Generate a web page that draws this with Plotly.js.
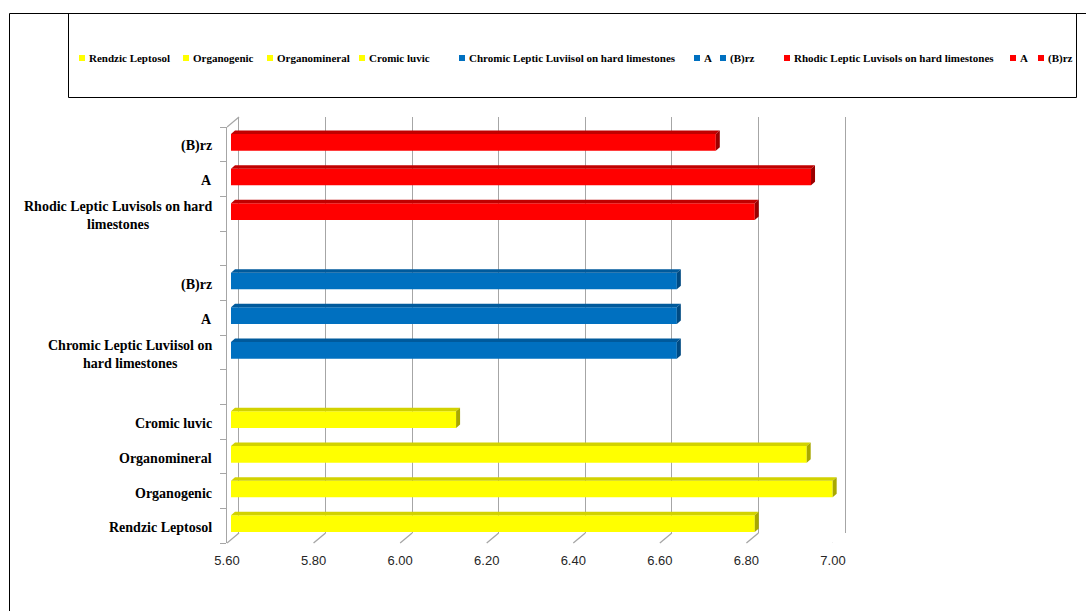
<!DOCTYPE html>
<html><head><meta charset="utf-8">
<script src="https://cdn.plot.ly/plotly-3.0.1.min.js"></script>
<style>html,body{margin:0;padding:0;background:#fff}#chart{width:1086px;height:611px}</style>
</head><body><div id="chart"></div>
<script>
// ---- data ----
const categories = ['Rendzic Leptosol','Organogenic','Organomineral','Cromic luvic',
  'Chromic Leptic Luviisol on hard limestones','A','(B)rz',
  'Rhodic Leptic Luvisols on hard limestones','A','(B)rz'];
const axisLabels = ['Rendzic Leptosol','Organogenic','Organomineral','Cromic luvic',
  'Chromic Leptic Luviisol on<br>hard limestones','A','(B)rz',
  'Rhodic Leptic Luvisols on hard<br>limestones','A','(B)rz'];
const slotIndex = [0,1,2,3,5,6,7,9,10,11];
const groupOf = [0,0,0,0,1,1,1,2,2,2];
const values = [6.81,6.99,6.93,6.12,6.63,6.63,6.63,6.81,6.94,6.72];
const xTickVals = [5.6,5.8,6.0,6.2,6.4,6.6,6.8,7.0];
const xTickText = ['5.60','5.80','6.00','6.20','6.40','6.60','6.80','7.00'];
const xMin = 5.6, xMax = 7.0, slotCount = 12;

// ---- styles ----
const frontCol = ['#FFFF00','#0070C0','#FF0000'];
const topCol   = ['#D2D200','#005A9C','#C00000'];
const sideCol  = ['#A8A800','#004A82','#9A0000'];
const legendX  = [82,186,270,362,462,697,723,787,1013,1041];
const W = 1086, H = 611;
const px = x => x / W, py = y => (H - y) / H;
const gridCol = '#A6A6A6';
const serif = 'Liberation Serif, Times New Roman, serif';
const sans = 'Liberation Sans, Arial, sans-serif';

// plane geometry (pixels)
const front = {x0:227, x1:833, yb:543, yt:127};
const barP  = {x0:231, x1:837, yb:541, yt:125};
const back  = {x0:239, x1:845, yb:533, yt:117};
const pxPerUnit = (front.x1 - front.x0) / (xMax - xMin);
const pxPerSlot = (front.yb - front.yt) / slotCount;

const traces = [];
// dummy traces so every subplot exists
traces.push({type:'scatter', x:[xMin], y:[-0.5], xaxis:'x', yaxis:'y', mode:'markers',
  marker:{opacity:0}, hoverinfo:'skip', showlegend:false});
traces.push({type:'scatter', x:[xMin], y:[-0.5], xaxis:'x2', yaxis:'y2', mode:'markers',
  marker:{opacity:0}, hoverinfo:'skip', showlegend:false});

[0,1,2].forEach(g => {
  const idx = values.map((v,i)=>i).filter(i => groupOf[i] === g);
  traces.push({
    type:'bar', orientation:'h', xaxis:'x3', yaxis:'y3',
    x: idx.map(i => values[i]), y: idx.map(i => slotIndex[i]),
    customdata: idx.map(i => categories[i]), hovertemplate:'%{customdata}: %{x:.2f}<extra></extra>',
    width: 0.48, marker:{color: frontCol[g], line:{width:0}}, showlegend:false
  });
});

const shapes = [];
const dx = 4 / pxPerUnit, dy = 3.5 / pxPerSlot, half = 0.24;
values.forEach((v,i) => {
  const s = slotIndex[i], g = groupOf[i];
  const yt = s + half, yb = s - half;
  shapes.push({type:'path', xref:'x3', yref:'y3', layer:'above', line:{width:0},
    fillcolor: topCol[g],
    path:`M ${xMin},${yt} L ${v},${yt} L ${v+dx},${yt+dy} L ${xMin+dx},${yt+dy} Z`});
  shapes.push({type:'path', xref:'x3', yref:'y3', layer:'above', line:{width:0},
    fillcolor: sideCol[g],
    path:`M ${v},${yb} L ${v},${yt} L ${v+dx},${yt+dy} L ${v+dx},${yb+dy} Z`});
});
// floor diagonals
const depthX = (back.x0 - front.x0) / pxPerUnit;
xTickVals.forEach(v => {
  shapes.push({type:'line', xref:'x2', yref:'paper', x0:v, x1:v+depthX,
    y0:py(front.yb), y1:py(back.yb), line:{color:gridCol, width:1.3}});
});
// top-left wall diagonal
shapes.push({type:'line', xref:'x2', yref:'paper', x0:xMin, x1:xMin+depthX,
  y0:py(front.yt), y1:py(back.yt), line:{color:gridCol, width:1.3}});
// outer frame and legend box
shapes.push({type:'line', xref:'paper', yref:'paper', x0:px(9.5), x1:px(9.5), y0:py(13.5), y1:0,
  line:{color:'#000', width:1}});
shapes.push({type:'line', xref:'paper', yref:'paper', x0:px(9.5), x1:1, y0:py(13.5), y1:py(13.5),
  line:{color:'#000', width:1}});
shapes.push({type:'rect', xref:'paper', yref:'paper', x0:px(68.5), x1:px(1076.5), y0:py(13.5), y1:py(97.5),
  line:{color:'#000', width:1}});

const annotations = [];
// legend
categories.forEach((c,i) => {
  const g = groupOf[i];
  shapes.push({type:'rect', xref:'paper', yref:'paper', x0:px(legendX[i]-3), x1:px(legendX[i]+3),
    y0:py(61), y1:py(55), line:{width:0}, fillcolor: frontCol[g]});
  annotations.push({xref:'paper', yref:'paper', x:px(legendX[i]+5), y:py(58), xanchor:'left', yanchor:'middle',
    text:c, showarrow:false, font:{family:serif, size:11, color:'#000', weight:'bold'}});
});
// category labels (centred multi-line like the original)
axisLabels.forEach((t,i) => {
  annotations.push({xref:'paper', yref:'y2', x:px(214), y:slotIndex[i], xanchor:'right', yanchor:'middle',
    yshift:-2, align:'center', text:t, showarrow:false,
    font:{family:serif, size:14, color:'#000', weight:'bold'}});
});

const boundaries = [];
for (let k = 0; k <= slotCount; k++) boundaries.push(k - 0.5);

const layout = {
  width:W, height:H, margin:{l:0,r:0,t:0,b:0},
  paper_bgcolor:'#fff', plot_bgcolor:'rgba(0,0,0,0)', showlegend:false,
  barmode:'overlay',
  // back wall (gridlines)
  xaxis:{domain:[px(back.x0), px(back.x1)], range:[xMin,xMax], anchor:'y',
    tickmode:'array', tickvals:xTickVals, showticklabels:false, ticks:'',
    showgrid:true, gridcolor:gridCol, gridwidth:1.3, zeroline:false, showline:false, fixedrange:true},
  yaxis:{domain:[py(back.yb), py(back.yt)], range:[-0.5, slotCount-0.5], anchor:'x',
    showgrid:false, zeroline:false, showticklabels:false, ticks:'',
    showline:true, mirror:true, linecolor:gridCol, linewidth:1.3, fixedrange:true},
  // front axes (labels, ticks)
  xaxis2:{domain:[px(front.x0), px(front.x1)], range:[xMin,xMax], anchor:'y2',
    tickmode:'array', tickvals:xTickVals, ticktext:xTickText, ticks:'', ticklabelstandoff:8,
    tickfont:{family:sans, size:13, color:'#262626'},
    showgrid:false, zeroline:false, showline:false, fixedrange:true},
  yaxis2:{domain:[py(front.yb), py(front.yt)], range:[-0.5, slotCount-0.5], anchor:'x2',
    tickmode:'array', tickvals:slotIndex, showticklabels:false, ticks:'',
    minor:{tickmode:'array', tickvals:boundaries, ticks:'outside', ticklen:6, tickcolor:gridCol, tickwidth:1.3, showgrid:false},
    showgrid:false, zeroline:false, showline:true, linecolor:gridCol, linewidth:1.3, fixedrange:true},
  // bar plane
  xaxis3:{domain:[px(barP.x0), px(barP.x1)], range:[xMin,xMax], anchor:'y3', visible:false, fixedrange:true},
  yaxis3:{domain:[py(barP.yb), py(barP.yt)], range:[-0.5, slotCount-0.5], anchor:'x3', visible:false, fixedrange:true},
  shapes:shapes, annotations:annotations
};

Plotly.newPlot('chart', traces, layout, {displayModeBar:false});
</script>
</body></html>
